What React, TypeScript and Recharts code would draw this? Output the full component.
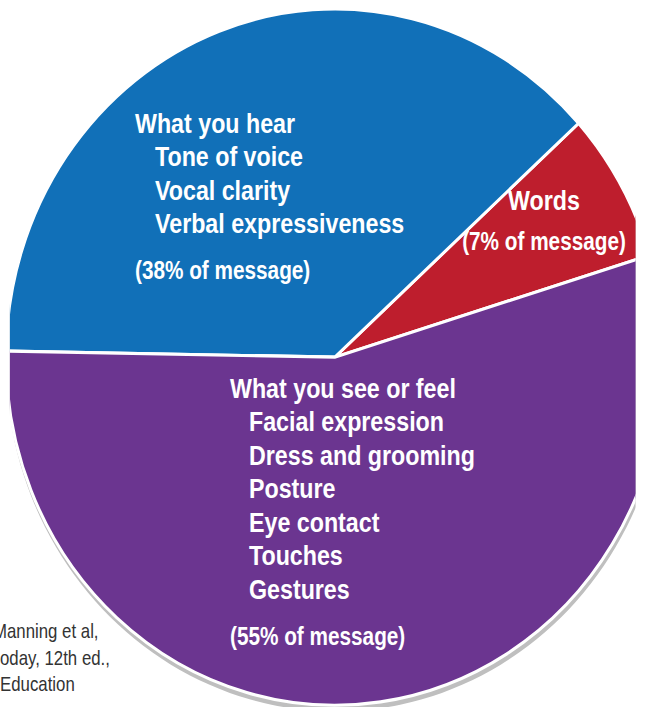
import React from 'react';
import { PieChart, Pie, Cell } from 'recharts';

// slices in drawing order (counter-clockwise from the right)
const segments = ['Words', 'What you hear', 'What you see or feel'];
const shares = [7, 38, 55];
const colors = ['#be1e2d', '#1170b8', '#6b3590'];
const itemLines = [
  [],
  ['Tone of voice', 'Vocal clarity', 'Verbal expressiveness'],
  ['Facial expression', 'Dress and grooming', 'Posture', 'Eye contact', 'Touches', 'Gestures'],
];
const shareLabels = shares.map((s) => `(${s}% of message)`);
const sourceLines = ['Manning et al,', 'oday, 12th ed.,', 'Education'];
const shadowData = [{ name: 'shadow', value: 100 }];

const data = segments.map((name, i) => ({ name, value: shares[i] }));

// the pie in the picture is slightly taller than wide
const CX = 330;
const CY = 352;
const R = 334;
const SX = 324 / R;
const SY = 343 / R;
const PAD = 5; // compensates for the white rim

// Liberation Sans squeezed horizontally stands in for Arial Narrow
const FONT = '"Liberation Sans", Arial, sans-serif';
const NARROW = 0.83;

// label anchors in page pixels: x, first baseline, alignment
const labelLayout = [
  { x: 544, y: 210, anchor: 'middle', indent: 0, shareGap: 40 },
  { x: 135, y: 133, anchor: 'start', indent: 20, shareGap: 46 },
  { x: 230, y: 398, anchor: 'start', indent: 19, shareGap: 46 },
];

const renderLabel = (props: any) => {
  const { index } = props;
  const box = labelLayout[index];
  const px = CX + (box.x - CX) / SX;
  const py = CY + (box.y - CY) / SY;
  const items = itemLines[index];
  const step = 33.5;
  const shareY = items.length * step + box.shareGap;
  return (
    <g
      transform={`translate(${px} ${py}) scale(${NARROW / SX} ${1 / SY})`}
      fill="#fff"
      fontFamily={FONT}
      fontWeight="bold"
    >
      <text x={0} y={0} fontSize={28} textAnchor={box.anchor}>{segments[index]}</text>
      {items.map((t, i) => (
        <text key={t} x={box.indent / NARROW} y={(i + 1) * step} fontSize={28} textAnchor={box.anchor}>
          {t}
        </text>
      ))}
      <text x={0} y={shareY} fontSize={25} textAnchor={box.anchor}>{shareLabels[index]}</text>
    </g>
  );
};

export default function App() {
  return (
    <div style={{ position: 'absolute', left: 0, top: 0, width: 645, height: 707, overflow: 'hidden', background: '#fff' }}>
      <div style={{ position: 'absolute', left: 0, top: 0, transform: `scale(${SX}, ${SY})`, transformOrigin: `${CX}px ${CY}px` }}>
        <PieChart width={645} height={707}>
          <Pie
            data={shadowData}
            dataKey="value"
            cx={CX + 1}
            cy={CY + 5}
            outerRadius={R + PAD + 1}
            fill="#bfbfbf"
            stroke="none"
            isAnimationActive={false}
          />
          <Pie
            data={data}
            dataKey="value"
            cx={CX}
            cy={CY}
            outerRadius={R + PAD}
            startAngle={17}
            endAngle={377}
            stroke="#fff"
            strokeWidth={3}
            label={renderLabel}
            labelLine={false}
            isAnimationActive={false}
          >
            {data.map((d, i) => (
              <Cell key={d.name} fill={colors[i]} />
            ))}
          </Pie>
        </PieChart>
      </div>
      <svg width={645} height={707} style={{ position: 'absolute', left: 0, top: 0, pointerEvents: 'none' }}>
        {sourceLines.map((t, i) => (
          <text
            key={t}
            transform={`translate(${i === 0 ? -7 : 0} ${638 + i * 26.5}) scale(0.82 1)`}
            fontSize={20.5}
            fontFamily={FONT}
            fill="#333"
          >
            {t}
          </text>
        ))}
      </svg>
    </div>
  );
}
